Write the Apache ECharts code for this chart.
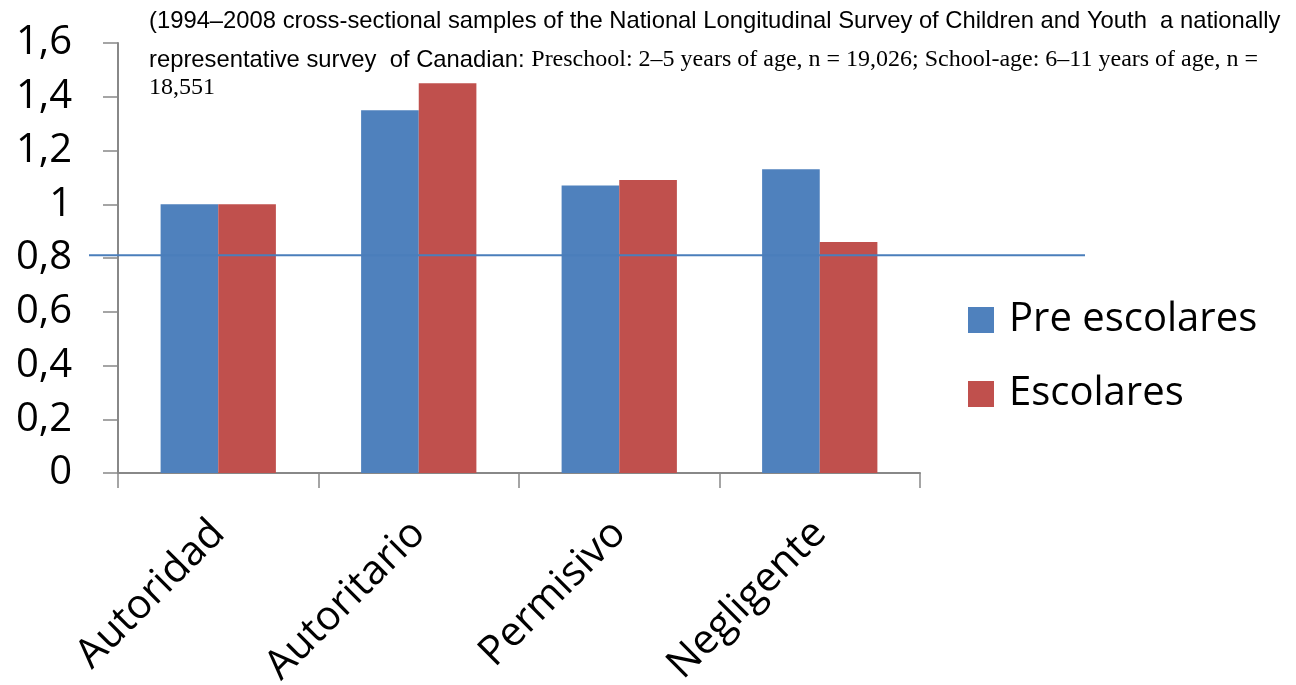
<!DOCTYPE html>
<html>
<head>
<meta charset="utf-8">
<script src="https://cdn.jsdelivr.net/npm/echarts@6/dist/echarts.min.js"></script>
<style>
  html, body { margin: 0; padding: 0; background: #fff; }
  #chart { width: 1296px; height: 685px; }
</style>
</head>
<body>
<div id="chart"></div>
<script>
const categories = ['Autoridad', 'Autoritario', 'Permisivo', 'Negligente']
const preEscolares = [1.0, 1.35, 1.07, 1.13]
const escolares = [1.0, 1.45, 1.09, 0.86]
// horizontal reference line
const refLine = [[0, 0.81], [1, 0.81]]

const chart = echarts.init(document.getElementById('chart'))
const bigFont = '"Open Sans", Lato, sans-serif'
const sans = '"Liberation Sans", Arial'
const serif = '"Liberation Serif", "Times New Roman"'

const option = {
  backgroundColor: '#fff',
  animation: false,
  title: [
    {
      left: 144, top: 4,
      text: '(1994–2008 cross-sectional samples of the National Longitudinal Survey of Children and Youth  a nationally',
      textStyle: { fontFamily: sans, fontSize: 23.8, fontWeight: 'normal', color: '#000' }
    },
    {
      left: 144, top: 43,
      text: '{a|representative survey  of Canadian: }{b|Preschool: 2–5 years of age, n = 19,026; School-age: 6–11 years of age, n =}',
      textStyle: {
        rich: {
          a: { fontFamily: sans, fontSize: 23.8, fontWeight: 'normal', color: '#000' },
          b: { fontFamily: serif, fontSize: 24, fontWeight: 'normal', color: '#000' }
        }
      }
    },
    {
      left: 144, top: 71,
      text: '18,551',
      textStyle: { fontFamily: serif, fontSize: 24, fontWeight: 'normal', color: '#000' }
    }
  ],
  legend: {
    orient: 'vertical',
    left: 963,
    top: 293,
    itemWidth: 26,
    itemHeight: 26,
    itemGap: 30,
    icon: 'rect',
    data: ['Pre escolares', 'Escolares'],
    textStyle: { fontFamily: bigFont, fontSize: 40, lineHeight: 44, color: '#000', padding: [0, 0, 0, 10] }
  },
  grid: [
    { left: 118, right: 376, top: 43, bottom: 212, outerBoundsMode: 'none' },
    { left: 89, right: 211, top: 43, bottom: 212, outerBoundsMode: 'none' }
  ],
  xAxis: [
    {
      type: 'category',
      gridIndex: 0,
      data: categories,
      axisLine: { lineStyle: { color: '#888', width: 2 } },
      axisTick: { show: true, length: 15, lineStyle: { color: '#888', width: 1.5 } },
      axisLabel: { rotate: 45, margin: 54, fontFamily: bigFont, fontSize: 41, color: '#000' }
    },
    { type: 'value', gridIndex: 1, min: 0, max: 1, show: false }
  ],
  yAxis: [
    {
      type: 'value',
      gridIndex: 0,
      min: 0, max: 1.6, interval: 0.2,
      splitLine: { show: false },
      axisLine: { show: true, lineStyle: { color: '#888', width: 2 } },
      axisTick: { show: true, length: 15, lineStyle: { color: '#888', width: 1.5 } },
      axisLabel: {
        margin: 46,
        fontFamily: bigFont, fontSize: 40, color: '#000',
        formatter: v => String(Math.round(v * 10) / 10).replace('.', ',')
      }
    },
    { type: 'value', gridIndex: 1, min: 0, max: 1.6, show: false }
  ],
  series: [
    {
      name: 'Pre escolares',
      type: 'bar',
      data: preEscolares,
      barGap: '0%',
      barCategoryGap: '42.5%',
      itemStyle: { color: '#4F81BD' }
    },
    {
      name: 'Escolares',
      type: 'bar',
      data: escolares,
      itemStyle: { color: '#C0504D' }
    },
    {
      name: 'ref',
      type: 'line',
      xAxisIndex: 1,
      yAxisIndex: 1,
      data: refLine,
      symbol: 'none',
      z: 5,
      lineStyle: { color: '#4A7EBB', width: 2 }
    }
  ]
}
chart.setOption(option)
</script>
</body>
</html>
